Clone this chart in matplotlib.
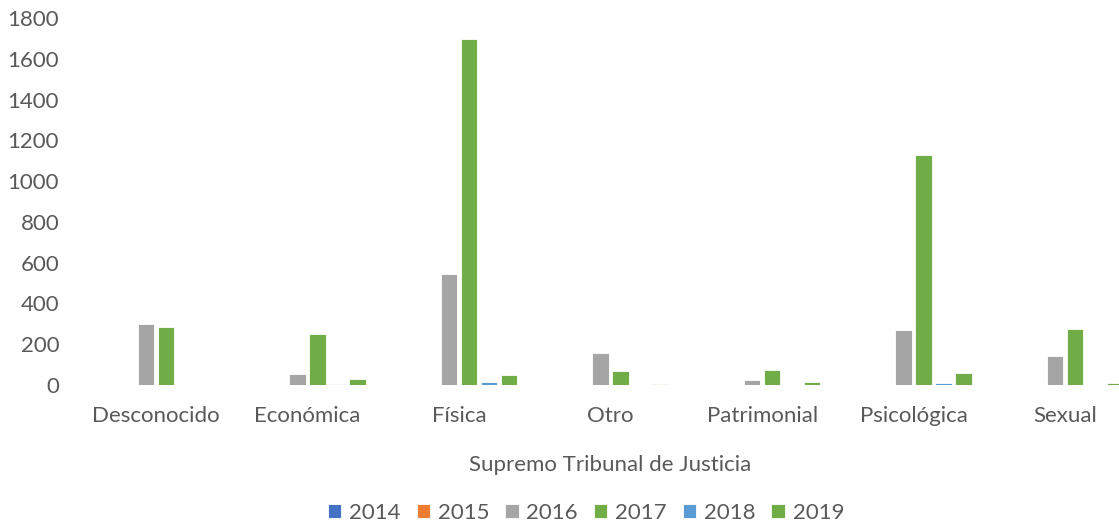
import numpy as np
import matplotlib.pyplot as plt

categorias = ["Desconocido", "Económica", "Física", "Otro", "Patrimonial", "Psicológica", "Sexual"]
anos = ["2014", "2015", "2016", "2017", "2018", "2019"]
v2014 = [0, 0, 0, 0, 0, 0, 0]
v2015 = [0, 0, 0, 0, 0, 0, 0]
v2016 = [298, 52, 545, 157, 25, 270, 142]
v2017 = [284, 252, 1697, 70, 75, 1130, 275]
v2018 = [0, 5, 14, 0, 2, 12, 2]
v2019 = [0, 29, 49, 3, 14, 59, 10]
cores = ["#4472C4", "#ED7D31", "#A5A5A5", "#70AD47", "#5B9BD5", "#70AD47"]

plt.rcParams['font.family'] = ['Lato', 'DejaVu Sans']
cinza = "#595959"
tam = 16

fig = plt.figure(figsize=(11.19, 5.25), dpi=100)
ax = fig.add_axes([80 / 1119, 1 - 385 / 525, 1061 / 1119, 367 / 525])

x = np.arange(len(categorias))
passo = 0.132
largura = 0.108
series = [v2014, v2015, v2016, v2017, v2018, v2019]
for i, (ano, vals) in enumerate(zip(anos, series)):
    ax.bar(x + (i - 2.5) * passo, vals, width=largura, color=cores[i],
           edgecolor="white", linewidth=0.6, label=ano)

ax.set_xlim(-0.5, len(categorias) - 0.5)
ax.set_ylim(0, 1800)
ax.set_yticks(range(0, 1801, 200))
ax.set_xticks(x)
ax.set_xticklabels(categorias)
ax.tick_params(axis='both', length=0, labelsize=tam, colors=cinza)
ax.tick_params(axis='y', pad=15)
ax.tick_params(axis='x', pad=15)
for s in ax.spines.values():
    s.set_visible(False)
ax.set_xlabel("Supremo Tribunal de Justicia", fontsize=tam, color=cinza, labelpad=21)

fig.legend(loc="center", bbox_to_anchor=(586 / 1119, 1 - 513 / 525), ncol=6, frameon=False,
           fontsize=tam, labelcolor=cinza, handlelength=0.6, handleheight=0.6,
           handletextpad=0.35, columnspacing=0.72, borderpad=0)

plt.savefig("out.png", dpi=100)
